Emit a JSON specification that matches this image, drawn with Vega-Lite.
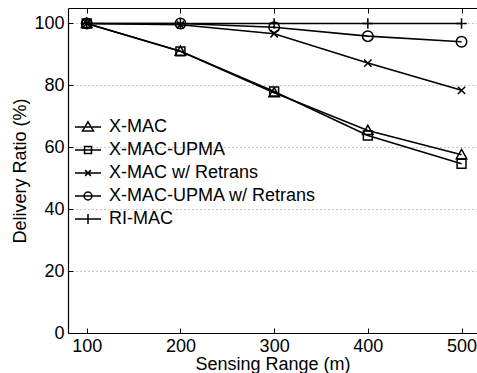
{
  "$schema": "https://vega.github.io/schema/vega-lite/v6.json",
  "width": 409,
  "height": 325,
  "autosize": {"type": "none"},
  "padding": {"left": 68, "top": 8, "right": 0, "bottom": 40},
  "background": "white",
  "config": {
    "view": {"stroke": null},
    "font": "Liberation Sans",
    "axis": {
      "domainColor": "black",
      "domainWidth": 1.2,
      "tickColor": "black",
      "tickSize": -5,
      "labelColor": "black",
      "labelFontSize": 18,
      "labelFont": "Liberation Sans",
      "titleColor": "black",
      "titleFontSize": 18,
      "titleFont": "Liberation Sans",
      "titleFontWeight": "normal"
    }
  },
  "resolve": {"scale": {"shape": "independent"}, "axis": {"x": "independent"}},
  "data": {
    "values": [
      {"series": "X-MAC", "range": 100, "ratio": 100},
      {"series": "X-MAC", "range": 200, "ratio": 91},
      {"series": "X-MAC", "range": 300, "ratio": 77.6},
      {"series": "X-MAC", "range": 400, "ratio": 65.4},
      {"series": "X-MAC", "range": 500, "ratio": 57.6},
      {"series": "X-MAC-UPMA", "range": 100, "ratio": 100},
      {"series": "X-MAC-UPMA", "range": 200, "ratio": 91},
      {"series": "X-MAC-UPMA", "range": 300, "ratio": 78},
      {"series": "X-MAC-UPMA", "range": 400, "ratio": 63.8},
      {"series": "X-MAC-UPMA", "range": 500, "ratio": 54.7},
      {"series": "X-MAC w/ Retrans", "range": 100, "ratio": 100},
      {"series": "X-MAC w/ Retrans", "range": 200, "ratio": 99.6},
      {"series": "X-MAC w/ Retrans", "range": 300, "ratio": 96.7},
      {"series": "X-MAC w/ Retrans", "range": 400, "ratio": 87.2},
      {"series": "X-MAC w/ Retrans", "range": 500, "ratio": 78.4},
      {"series": "X-MAC-UPMA w/ Retrans", "range": 100, "ratio": 100},
      {"series": "X-MAC-UPMA w/ Retrans", "range": 200, "ratio": 100},
      {"series": "X-MAC-UPMA w/ Retrans", "range": 300, "ratio": 98.8},
      {"series": "X-MAC-UPMA w/ Retrans", "range": 400, "ratio": 95.9},
      {"series": "X-MAC-UPMA w/ Retrans", "range": 500, "ratio": 94.1},
      {"series": "RI-MAC", "range": 100, "ratio": 100},
      {"series": "RI-MAC", "range": 200, "ratio": 100},
      {"series": "RI-MAC", "range": 300, "ratio": 100},
      {"series": "RI-MAC", "range": 400, "ratio": 100},
      {"series": "RI-MAC", "range": 500, "ratio": 100}
    ]
  },
  "layer": [
    {
      "mark": {"type": "line", "color": "black", "strokeWidth": 1.6},
      "encoding": {
        "x": {
          "field": "range", "type": "quantitative",
          "scale": {"domain": [80, 516.5], "nice": false, "zero": false},
          "axis": {"orient": "bottom", "values": [100, 200, 300, 400, 500], "grid": false, "labelPadding": 9, "title": "Sensing Range (m)", "titlePadding": 0}
        },
        "y": {
          "field": "ratio", "type": "quantitative",
          "scale": {"domain": [0, 105], "nice": false, "zero": true},
          "axis": {"orient": "left", "values": [0, 20, 40, 60, 80, 100], "grid": true, "gridColor": "#888", "gridDash": [1, 3], "gridWidth": 1, "labelPadding": 9, "title": "Delivery Ratio (%)", "titlePadding": 4}
        },
        "detail": {"field": "series"}
      }
    },
    {
      "mark": {"type": "point", "filled": false, "color": "black", "strokeWidth": 1.5, "size": 110, "opacity": 1},
      "encoding": {
        "x": {
          "field": "range", "type": "quantitative",
          "scale": {"domain": [80, 516.5], "nice": false, "zero": false},
          "axis": {"orient": "top", "values": [100, 200, 300, 400, 500], "grid": false, "labels": false, "title": null}
        },
        "y": {
          "field": "ratio", "type": "quantitative",
          "scale": {"domain": [0, 105], "nice": false, "zero": true},
          "axis": {"orient": "left", "values": [0, 20, 40, 60, 80, 100], "grid": true, "gridColor": "#888", "gridDash": [1, 3], "gridWidth": 1, "labelPadding": 9, "title": "Delivery Ratio (%)", "titlePadding": 4}
        },
        "shape": {
          "field": "series", "type": "nominal",
          "scale": {
            "domain": ["X-MAC", "X-MAC-UPMA", "X-MAC w/ Retrans", "X-MAC-UPMA w/ Retrans", "RI-MAC"],
            "range": ["M0,-1L1,0.75L-1,0.75Z", "M-0.85,-0.85L0.85,-0.85L0.85,0.85L-0.85,0.85Z", "M-0.7,-0.7L0.7,0.7M-0.7,0.7L0.7,-0.7", "circle", "M-1,0L1,0M0,-1L0,1"]
          },
          "legend": null
        }
      }
    },
    {
      "mark": {"type": "point", "filled": false, "color": "black", "strokeWidth": 1.5, "size": 0},
      "encoding": {
        "x": {
          "field": "range", "type": "quantitative",
          "scale": {"domain": [80, 516.5], "nice": false, "zero": false},
          "axis": {"orient": "bottom", "domain": false, "ticks": false, "labels": false, "grid": false, "title": null}
        },
        "y": {
          "field": "ratio", "type": "quantitative",
          "scale": {"domain": [0, 105], "nice": false, "zero": true},
          "axis": {"orient": "left", "values": [0, 20, 40, 60, 80, 100], "grid": true, "gridColor": "#888", "gridDash": [1, 3], "gridWidth": 1, "labelPadding": 9, "title": "Delivery Ratio (%)", "titlePadding": 4}
        },
        "shape": {
          "field": "series", "type": "nominal",
          "scale": {
            "domain": ["X-MAC", "X-MAC-UPMA", "X-MAC w/ Retrans", "X-MAC-UPMA w/ Retrans", "RI-MAC"],
            "range": [
              "M-1,0L1,0M0,-0.4L0.42,0.3L-0.42,0.3Z",
              "M-1,0L1,0M-0.27,-0.27L0.27,-0.27L0.27,0.27L-0.27,0.27Z",
              "M-1,0L1,0M-0.22,-0.22L0.22,0.22M-0.22,0.22L0.22,-0.22",
              "M-1,0L1,0M0.3,0A0.3,0.3 0 1,1 -0.3,0A0.3,0.3 0 1,1 0.3,0Z",
              "M-1,0L1,0M0,-0.38L0,0.38"
            ]
          },
          "legend": {
            "title": null,
            "orient": "none",
            "legendX": 6,
            "legendY": 105,
            "padding": 0,
            "symbolSize": 676,
            "symbolStrokeColor": "black",
            "symbolFillColor": "transparent",
            "symbolStrokeWidth": 1.5,
            "symbolOpacity": 1,
            "labelFontSize": 18,
            "labelFont": "Liberation Sans",
            "labelColor": "black",
            "labelOffset": 7,
            "rowPadding": -3,
            "labelLimit": 400
          }
        }
      }
    }
  ]
}
